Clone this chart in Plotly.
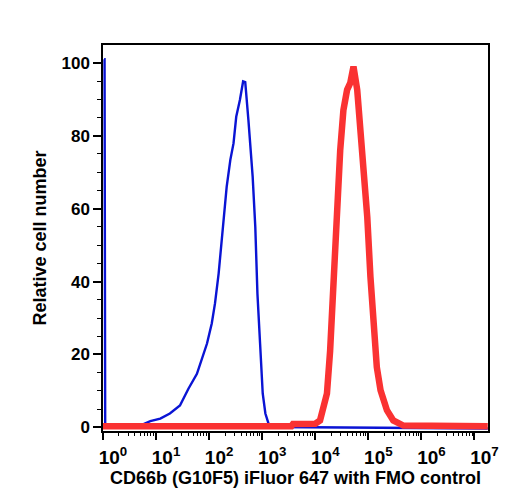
import plotly.graph_objects as go

# FMO control (blue) histogram: fluorescence intensity vs relative cell number
fmo_x = [1.05, 1.07, 1.1, 2.1, 5.0, 7.8, 12, 18.2, 28.2, 40.7, 58.9, 91.2, 112, 129, 151,
         166, 191, 214, 251, 288, 324, 380, 437, 479, 550, 589, 661, 741, 813, 912,
         1023, 1148, 1318, 1622, 1.78e7]
fmo_y = [101, 101, 0, 0.1, 0.5, 1.7, 2.4, 3.8, 6.0, 10.6, 14.7, 23, 28.5, 34, 42.2,
         48.6, 57.8, 66, 73.4, 77.9, 85.2, 89.8, 94.9, 94.7, 84.3, 78.8, 68.8, 55, 36.7, 23,
         9.3, 3.8, 1.0, 0.1, -0.3]

# CD66b iFluor 647 stained (red) histogram
stain_x = [1.0, 3548, 3800, 10000, 12300, 16600, 19050, 21900, 25700, 29500, 33900,
           39800, 45700, 52500, 61700, 70800, 81300, 95500, 109600, 125900, 144500,
           169800, 223900, 295100, 457000, 1.78e7]
stain_y = [0.3, 0.3, 0.9, 1.0, 1.9, 9.3, 21, 39.6, 59.6, 76, 87,
           92.6, 94.5, 99, 92.6, 81.6, 73.4, 57.7, 41.2, 25.8, 16.5,
           10.2, 4.7, 1.9, 0.5, 0.3]

x_tick_vals = [1, 10, 100, 1000, 1e4, 1e5, 1e6, 1e7]
x_tick_text = ["10<sup>0</sup>", "10<sup>1</sup>", "10<sup>2</sup>", "10<sup>3</sup>",
               "10<sup>4</sup>", "10<sup>5</sup>", "10<sup>6</sup>", "10<sup>7</sup>"]
x_minor_vals = [k * 10 ** n for n in range(0, 8) for k in range(2, 10)]
y_tick_vals = [0, 20, 40, 60, 80, 100]

x_title = "CD66b (G10F5) iFluor 647 with FMO control"
y_title = "Relative cell number"

fig = go.Figure()
fig.add_trace(go.Scatter(x=fmo_x, y=fmo_y, mode="lines",
                         line=dict(color="#0a14d4", width=2.4), showlegend=False))
fig.add_trace(go.Scatter(x=stain_x, y=stain_y, mode="lines",
                         line=dict(color="#fa3232", width=6.5), showlegend=False))

font_family = "Liberation Sans, Arial, sans-serif"
fig.update_layout(
    width=508, height=500,
    margin=dict(l=103, r=20, t=45, b=69),
    paper_bgcolor="white", plot_bgcolor="white",
    font=dict(family=font_family, size=18, color="black", weight="bold"),
    xaxis=dict(
        type="log", range=[0, 7.255],
        tickvals=x_tick_vals, ticktext=x_tick_text,
        ticks="outside", ticklen=7, tickwidth=1.5, tickcolor="black",
        ticklabelshift=10, ticklabelstandoff=1,
        minor=dict(tickvals=x_minor_vals, ticks="outside", ticklen=3, tickwidth=1, tickcolor="black"),
        showline=True, linecolor="black", linewidth=1.5, mirror=True,
        showgrid=False, zeroline=False,
        tickfont=dict(size=19, weight="bold"),
        title=dict(text=x_title, font=dict(size=18, weight="bold"), standoff=0),
        automargin=False,
    ),
    yaxis=dict(
        range=[-1, 104.9],
        tickvals=y_tick_vals,
        ticks="outside", ticklen=8, tickwidth=1.5, tickcolor="black",
        minor=dict(dtick=5, ticks="outside", ticklen=4, tickwidth=1, tickcolor="black"),
        showline=True, linecolor="black", linewidth=1.5, mirror=True,
        showgrid=False, zeroline=False,
        tickfont=dict(size=17, weight="bold"),
        title=dict(text=y_title, font=dict(size=18, weight="bold"), standoff=10),
        automargin=False,
    ),
)

fig.write_html("out.html")
